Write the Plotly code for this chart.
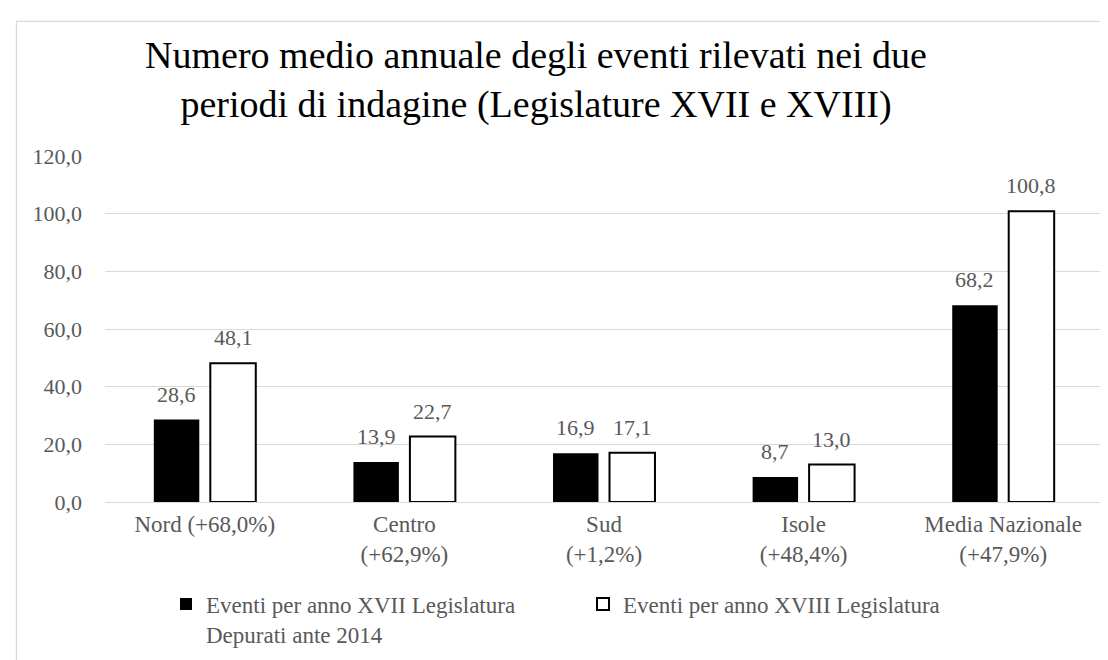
import plotly.graph_objects as go

categories = ["Nord (+68,0%)", "Centro<br>(+62,9%)", "Sud<br>(+1,2%)", "Isole<br>(+48,4%)", "Media Nazionale<br>(+47,9%)"]
xvii_values = [28.6, 13.9, 16.9, 8.7, 68.2]
xviii_values = [48.1, 22.7, 17.1, 13.0, 100.8]
series_names = ["Eventi per anno XVII Legislatura<br>Depurati ante 2014", "Eventi per anno XVIII Legislatura"]
title_text = "Numero medio annuale degli eventi rilevati nei due<br>periodi di indagine (Legislature XVII e XVIII)"

FONT = "Liberation Serif"
GREY = "#595959"

# plot geometry
ML, MR, MT, MB = 97, 13, 148, 164
PW, PH = 1108 - ML - MR, 660 - MT - MB
BARGAP = 0.434
slot = PW / len(categories) * (1 - BARGAP) / 2

fig = go.Figure()
fig.add_trace(go.Bar(
    x=categories, y=xvii_values, name=series_names[0],
    marker=dict(color="#000000", line=dict(width=0)),
))
fig.add_trace(go.Bar(
    x=categories, y=xviii_values, name=series_names[1],
    marker=dict(color="#ffffff", line=dict(width=2, color="#000000")),
))

annotations = []
for sign, vals in ((-1, xvii_values), (1, xviii_values)):
    for c, v in zip(categories, vals):
        annotations.append(dict(
            x=c, y=v, xref="x", yref="y", text=f"{v:.1f}".replace(".", ","),
            showarrow=False, xanchor="center", yanchor="bottom",
            xshift=sign * slot / 2, yshift=11,
            font=dict(family=FONT, size=22, color=GREY)))

fig.update_layout(
    width=1108, height=660,
    margin=dict(l=ML, r=MR, t=MT, b=MB),
    paper_bgcolor="white", plot_bgcolor="white",
    separators=",.",
    barmode="group", bargap=BARGAP, bargroupgap=0.195,
    font=dict(family=FONT, size=23, color=GREY),
    title=dict(text=title_text, font=dict(family=FONT, size=38, color="#000000"),
               x=528/1108, xanchor="center", xref="container",
               y=1 - 60/660, yanchor="top", yref="container"),
    showlegend=True,
    legend=dict(orientation="h", x=(158-ML)/PW, xanchor="left", y=-(577-496)/PH, yanchor="top",
                valign="top", entrywidthmode="pixels", entrywidth=372,
                font=dict(family=FONT, size=23, color=GREY), traceorder="normal",
                bgcolor="rgba(0,0,0,0)"),
    annotations=annotations,
    shapes=[dict(type="rect", xref="paper", yref="paper", x0=(8.5-ML)/PW, x1=1.05,
                 y0=-0.6, y1=1 + (MT-12.5)/PH, line=dict(color="#d9d9d9", width=1.3),
                 fillcolor="rgba(0,0,0,0)", layer="below")],
)
fig.update_yaxes(range=[0, 120], dtick=20, tickformat=".1f", showgrid=True,
                 gridcolor="#d9d9d9", gridwidth=1.3, zeroline=True, zerolinecolor="#d9d9d9",
                 zerolinewidth=1.3, showline=False, ticks="", ticklabelstandoff=22,
                 tickfont=dict(family=FONT, size=22, color=GREY))
fig.update_xaxes(showline=False, ticks="", tickfont=dict(family=FONT, size=23, color=GREY),
                 ticklabelstandoff=6)

fig.write_html("out.html")
